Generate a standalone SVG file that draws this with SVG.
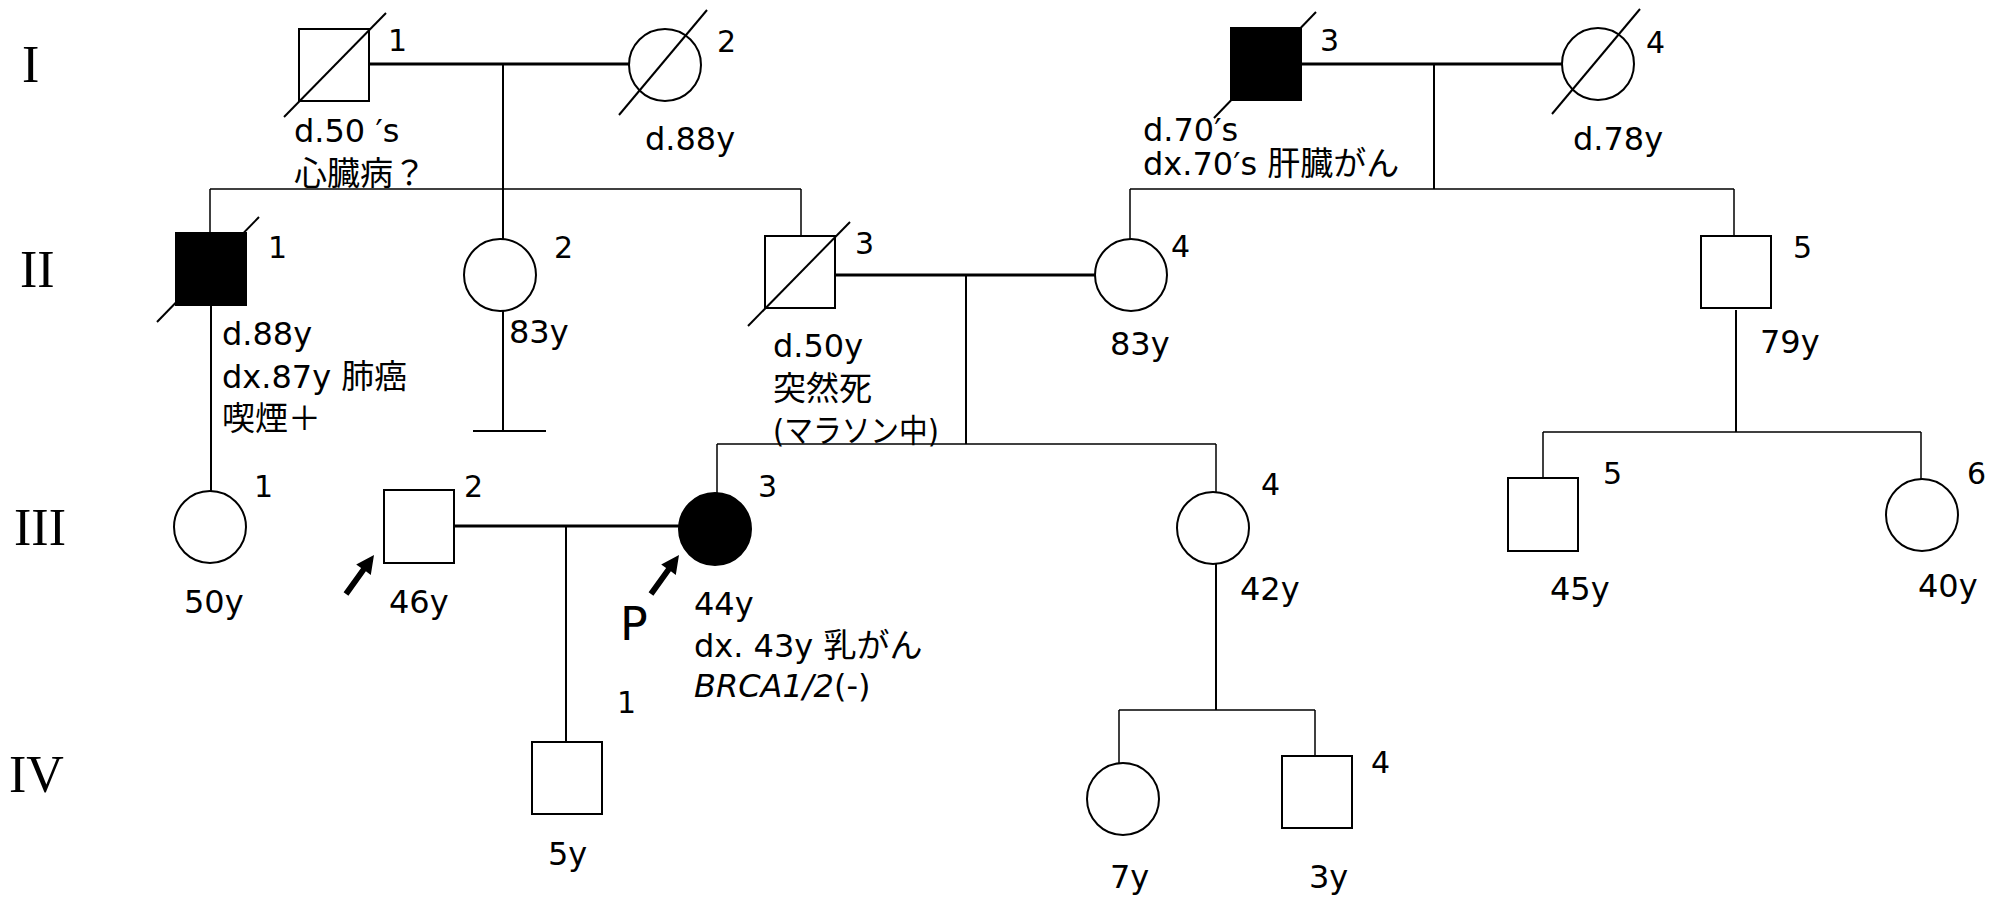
<svg xmlns="http://www.w3.org/2000/svg" width="1993" height="898" viewBox="0 0 1993 898">
<style>
.n{fill:#fff;stroke:#000;stroke-width:2}
.f{fill:#000;stroke:#000;stroke-width:2}
.sl{stroke:#000;stroke-width:2;fill:none}
.m{stroke:#000;stroke-width:3;fill:none}
.d{stroke:#000;stroke-width:2;fill:none}
.s{stroke:#000;stroke-width:1.5;fill:none}
text{font-family:"DejaVu Sans","Noto Sans CJK JP",sans-serif;font-size:32px;fill:#000}
.j{font-family:"Noto Sans CJK JP",sans-serif;font-size:33px}
.num{font-size:30px}
.gen{font-family:"Liberation Serif",serif;font-size:52px}
.p{font-size:46px}
</style>
<defs>
<path id="arrow" d="M0,0 L-3.2,19.9 L-8.1,16.3 L-25.6,40.7 L-30.4,37.3 L-12.9,12.9 L-17.8,9.4 Z" fill="#000"/>
</defs>
<rect width="1993" height="898" fill="#fff"/>
<g id="generations">
<text class="gen" x="22" y="82">I</text>
<text class="gen" x="20" y="287">II</text>
<text class="gen" x="14" y="545">III</text>
<text class="gen" x="9" y="792">IV</text>
</g>
<g id="connectors">
<line class="m" x1="369" y1="64" x2="629" y2="64"/>
<line class="d" x1="503" y1="64" x2="503" y2="239"/>
<line class="s" x1="210" y1="189" x2="801" y2="189"/>
<line class="s" x1="210" y1="189" x2="210" y2="233"/>
<line class="s" x1="801" y1="189" x2="801" y2="236"/>
<line class="m" x1="1301" y1="64" x2="1562" y2="64"/>
<line class="d" x1="1434" y1="64" x2="1434" y2="189"/>
<line class="s" x1="1130" y1="189" x2="1734" y2="189"/>
<line class="s" x1="1130" y1="189" x2="1130" y2="239"/>
<line class="s" x1="1734" y1="189" x2="1734" y2="236"/>
<line class="d" x1="211" y1="305" x2="211" y2="491"/>
<line class="d" x1="503" y1="311" x2="503" y2="431"/>
<line class="d" x1="473" y1="431" x2="546" y2="431"/>
<line class="m" x1="835" y1="275" x2="1095" y2="275"/>
<line class="d" x1="966" y1="275" x2="966" y2="444"/>
<line class="s" x1="717" y1="444" x2="1216" y2="444"/>
<line class="s" x1="717" y1="444" x2="717" y2="493"/>
<line class="s" x1="1216" y1="444" x2="1216" y2="492"/>
<line class="d" x1="1736" y1="310" x2="1736" y2="432"/>
<line class="s" x1="1543" y1="432" x2="1921" y2="432"/>
<line class="s" x1="1543" y1="432" x2="1543" y2="478"/>
<line class="s" x1="1921" y1="432" x2="1921" y2="479"/>
<line class="m" x1="454" y1="526" x2="679" y2="526"/>
<line class="d" x1="566" y1="526" x2="566" y2="742"/>
<line class="d" x1="1216" y1="564" x2="1216" y2="710"/>
<line class="s" x1="1119" y1="710" x2="1315" y2="710"/>
<line class="s" x1="1119" y1="710" x2="1119" y2="763"/>
<line class="s" x1="1315" y1="710" x2="1315" y2="756"/>
</g>
<g id="I-1">
<rect class="n" x="299" y="29" width="70" height="72"/>
<line class="sl" x1="284" y1="117" x2="386" y2="13"/>
<text class="num" x="388" y="51">1</text>
<text x="294" y="142">d.50 ′s</text>
<text class="j" x="294" y="185">心臓病？</text>
</g>
<g id="I-2">
<circle class="n" cx="665" cy="65" r="36"/>
<line class="sl" x1="619" y1="115" x2="707" y2="10"/>
<text class="num" x="717" y="52">2</text>
<text x="645" y="150">d.88y</text>
</g>
<g id="I-3">
<rect class="f" x="1231" y="28" width="70" height="72"/>
<line class="sl" x1="1214" y1="118" x2="1316" y2="12"/>
<text class="num" x="1320" y="51">3</text>
<text x="1143" y="141">d.70′s</text>
<text x="1143" y="175">dx.70′s <tspan class="j">肝臓がん</tspan></text>
</g>
<g id="I-4">
<circle class="n" cx="1598" cy="64" r="36"/>
<line class="sl" x1="1552" y1="114" x2="1640" y2="9"/>
<text class="num" x="1646" y="53">4</text>
<text x="1573" y="150">d.78y</text>
</g>
<g id="II-1">
<rect class="f" x="176" y="233" width="70" height="72"/>
<line class="sl" x1="157" y1="322" x2="259" y2="217"/>
<text class="num" x="268" y="258">1</text>
<text x="222" y="345">d.88y</text>
<text x="222" y="388">dx.87y <tspan class="j">肺癌</tspan></text>
<text class="j" x="222" y="430">喫煙＋</text>
</g>
<g id="II-2">
<circle class="n" cx="500" cy="275" r="36"/>
<text class="num" x="554" y="258">2</text>
<text x="509" y="343">83y</text>
</g>
<g id="II-3">
<rect class="n" x="765" y="236" width="70" height="72"/>
<line class="sl" x1="748" y1="326" x2="850" y2="222"/>
<text class="num" x="855" y="254">3</text>
<text x="773" y="357">d.50y</text>
<text class="j" x="773" y="400">突然死</text>
<text x="773" y="442" textLength="166" lengthAdjust="spacingAndGlyphs">(マラソン中)</text>
</g>
<g id="II-4">
<circle class="n" cx="1131" cy="275" r="36"/>
<text class="num" x="1171" y="257">4</text>
<text x="1110" y="355">83y</text>
</g>
<g id="II-5">
<rect class="n" x="1701" y="236" width="70" height="72"/>
<text class="num" x="1793" y="258">5</text>
<text x="1760" y="353">79y</text>
</g>
<g id="III-1">
<circle class="n" cx="210" cy="527" r="36"/>
<text class="num" x="254" y="497">1</text>
<text x="184" y="613">50y</text>
</g>
<g id="III-2">
<rect class="n" x="384" y="490" width="70" height="73"/>
<text class="num" x="464" y="497">2</text>
<text x="389" y="613">46y</text>
<use href="#arrow" x="374" y="555"/>
</g>
<g id="III-3">
<circle class="f" cx="715" cy="529" r="36"/>
<text class="num" x="758" y="497">3</text>
<use href="#arrow" x="679" y="555"/>
<text class="p" x="620" y="640">P</text>
<text x="694" y="615">44y</text>
<text x="694" y="657">dx. 43y <tspan class="j">乳がん</tspan></text>
<text x="694" y="697"><tspan font-style="italic">BRCA1/2</tspan>(-)</text>
</g>
<g id="III-4">
<circle class="n" cx="1213" cy="528" r="36"/>
<text class="num" x="1261" y="495">4</text>
<text x="1240" y="600">42y</text>
</g>
<g id="III-5">
<rect class="n" x="1508" y="478" width="70" height="73"/>
<text class="num" x="1603" y="484">5</text>
<text x="1550" y="600">45y</text>
</g>
<g id="III-6">
<circle class="n" cx="1922" cy="515" r="36"/>
<text class="num" x="1967" y="484">6</text>
<text x="1918" y="597">40y</text>
</g>
<g id="IV-1">
<rect class="n" x="532" y="742" width="70" height="72"/>
<text class="num" x="617" y="713">1</text>
<text x="548" y="865">5y</text>
</g>
<g id="IV-3">
<circle class="n" cx="1123" cy="799" r="36"/>
<text x="1110" y="888">7y</text>
</g>
<g id="IV-4">
<rect class="n" x="1282" y="756" width="70" height="72"/>
<text class="num" x="1371" y="773">4</text>
<text x="1309" y="888">3y</text>
</g>
</svg>
